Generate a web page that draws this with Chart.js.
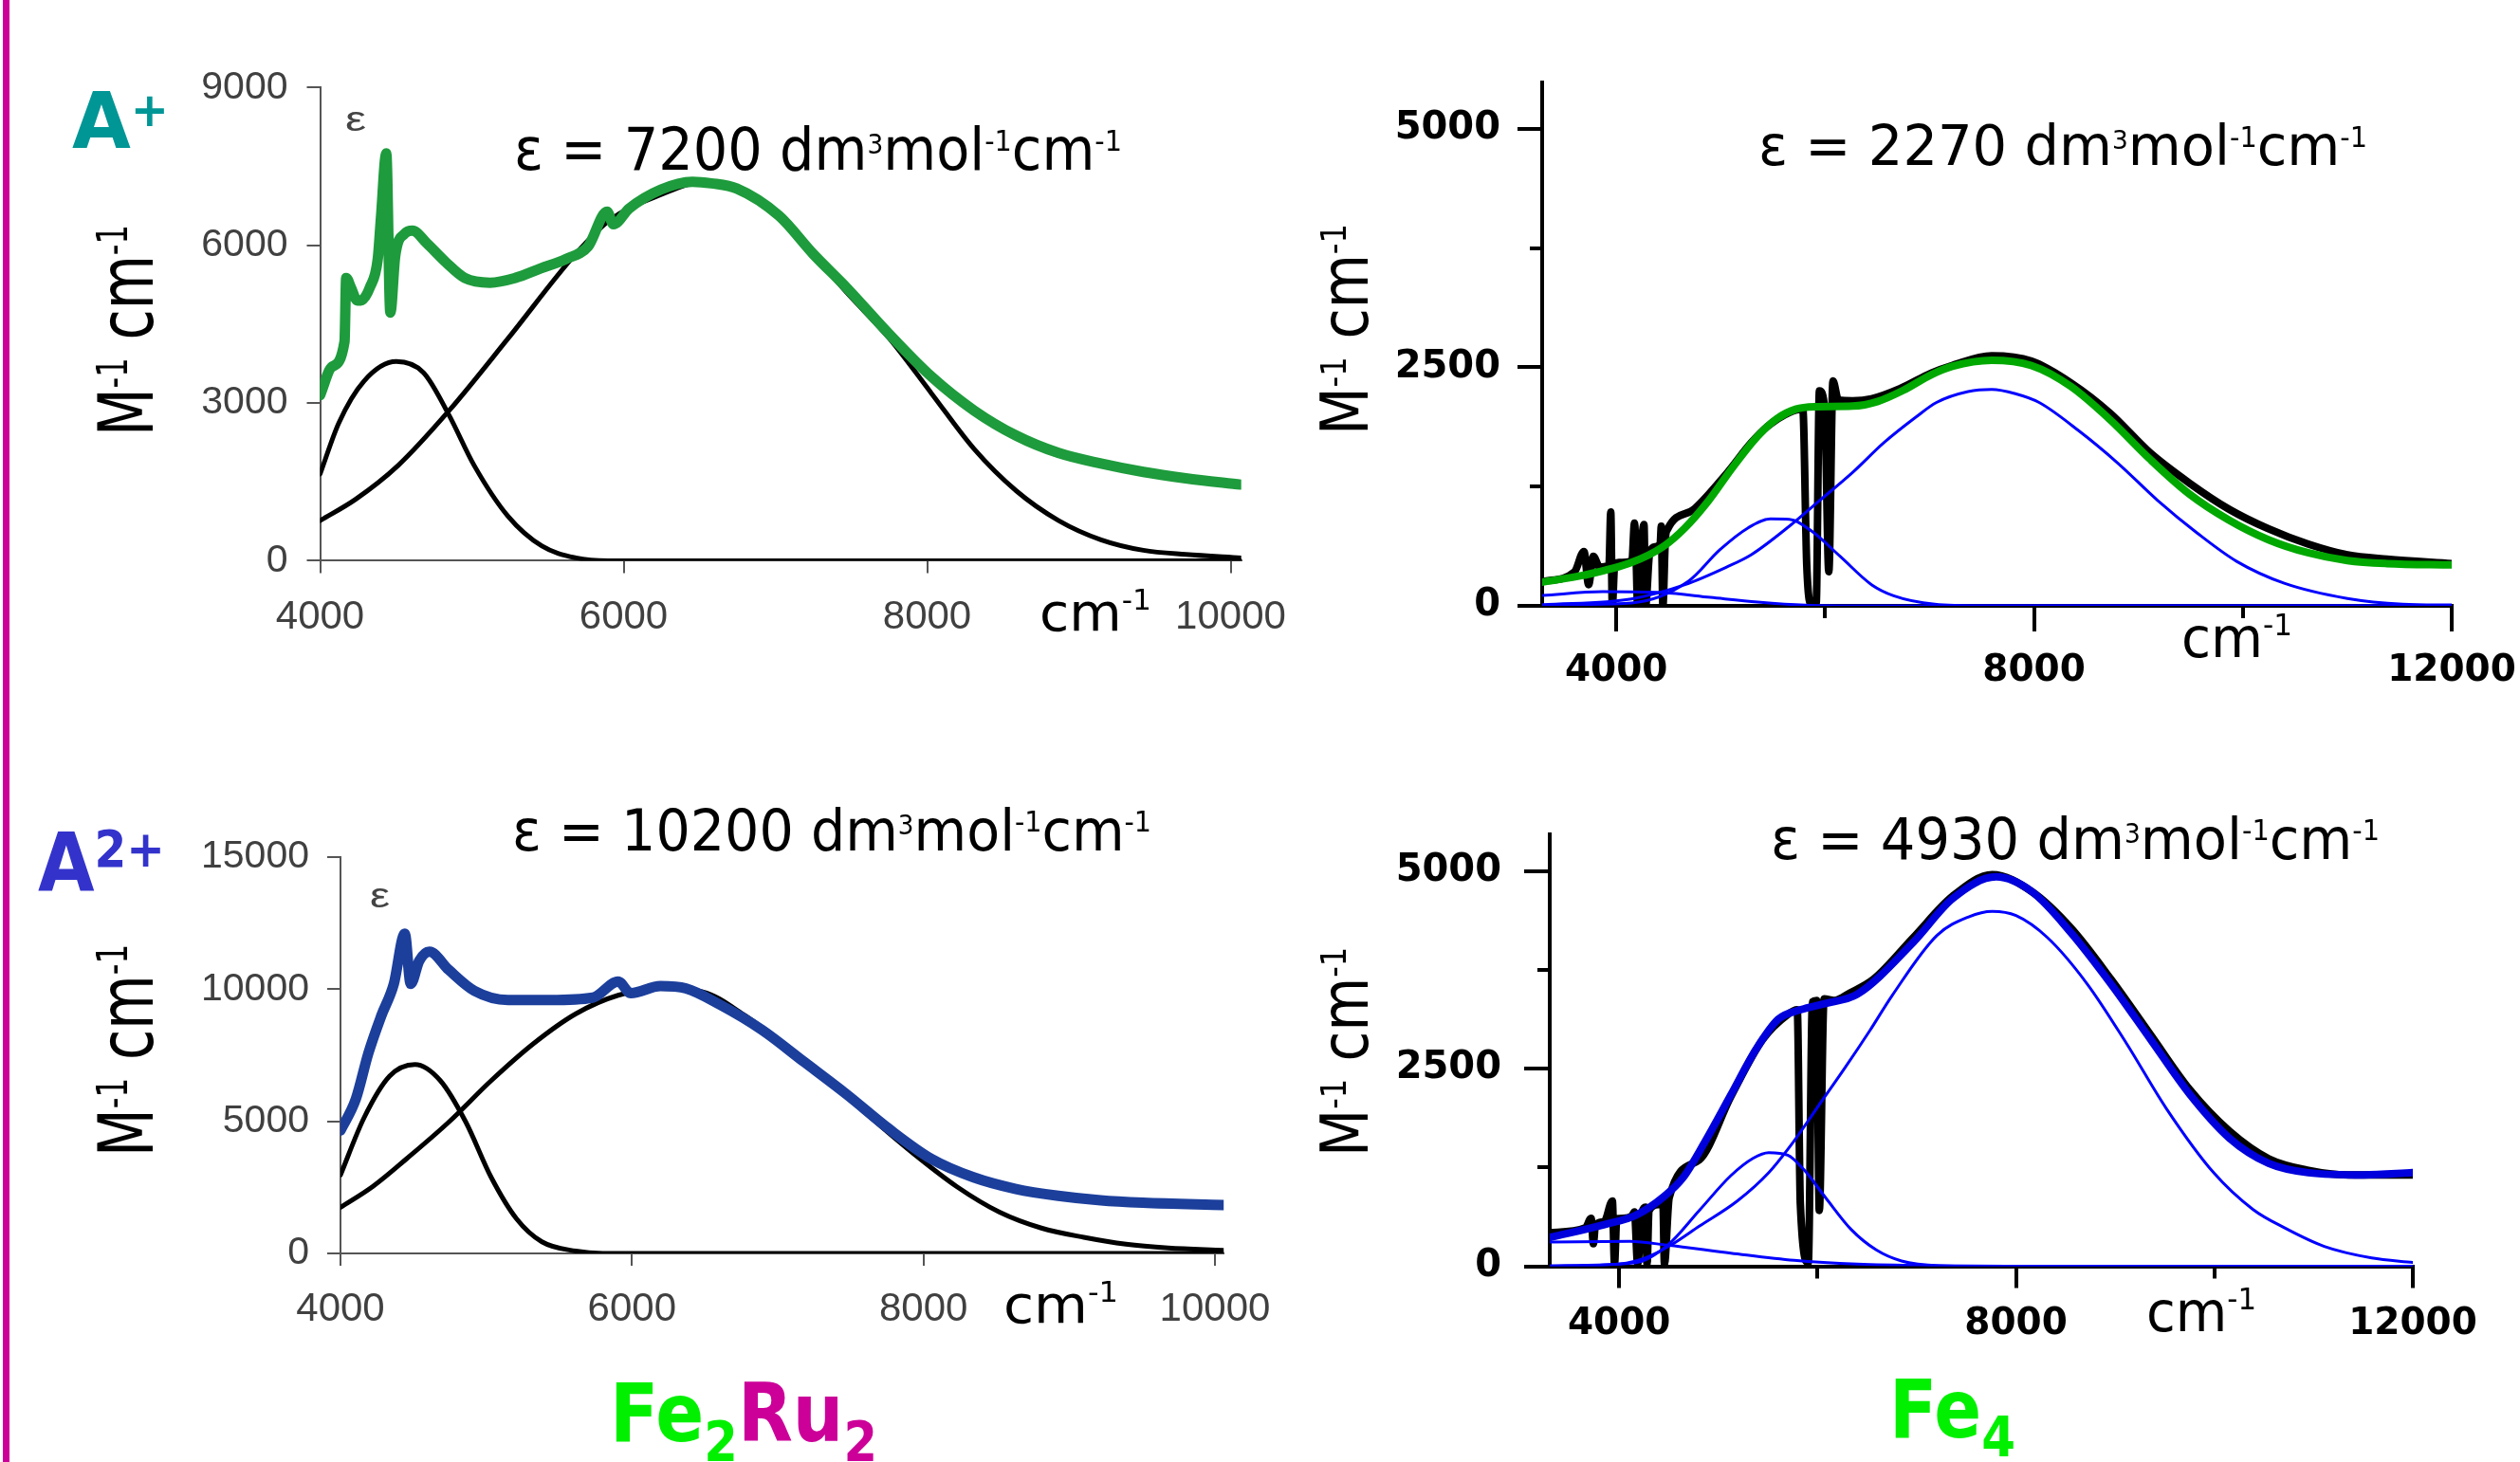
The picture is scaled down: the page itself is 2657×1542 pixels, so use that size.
<!DOCTYPE html>
<html><head><meta charset="utf-8"><title>NIR spectra Fe2Ru2 / Fe4</title>
<script src="https://cdn.jsdelivr.net/npm/chart.js@4.4.1/dist/chart.umd.min.js"></script>
<style>
html,body{margin:0;padding:0;background:#fff;width:2657px;height:1542px;overflow:hidden}
canvas{position:absolute;left:0;top:0}
#edge{position:absolute;left:3px;top:0;width:7px;height:1542px;background:#cc0099}
</style></head>
<body>
<div id="edge"></div>
<canvas id="p1" width="2657" height="1542"></canvas>
<canvas id="p2" width="2657" height="1542"></canvas>
<canvas id="p3" width="2657" height="1542"></canvas>
<canvas id="p4" width="2657" height="1542"></canvas>
<script>
// ---------------- tick values ----------------
const fe2ru2XTicks = [4000, 6000, 8000, 10000];
const fe2ru2AYTicks = [0, 3000, 6000, 9000];
const fe2ru2BYTicks = [0, 5000, 10000, 15000];
const fe4XTicks = [4000, 8000, 12000];
const fe4XMinor = [6000, 10000];
const fe4YTicks = [0, 2500, 5000];
const fe4YMinor = [1250, 3750];

// ---------------- Fe2Ru2, A+  [cm-1, M-1 cm-1] ----------------
const fe2ru2A_exp = [[4000,3150],[4078,3690],[4161,4170],[4172,5380],[4203,5200],[4245,4950],[4276,4960],[4328,5200],[4380,5740],[4401,6520],[4436,7750],[4463,4720],[4495,5800],[4557,6220],[4609,6280],[4703,6040],[4828,5680],[4953,5380],[5120,5290],[5286,5380],[5453,5560],[5620,5740],[5766,5980],[5891,6640],[5933,6400],[6036,6700],[6245,7060],[6453,7210],[6578,7180],[6746,7080],[7025,6560],[7248,5840],[7471,5190],[7751,4310],[8030,3500],[8309,2860],[8588,2380],[8867,2050],[9146,1850],[9425,1690],[9705,1570],[10067,1450]];
const fe2ru2A_band1 = [[4000,1650],[4123,2620],[4290,3420],[4502,3790],[4681,3580],[4848,2780],[5016,1810],[5239,845],[5462,280],[5685,56],[5900,0],[10067,0]];
const fe2ru2A_band2 = [[4000,765],[4234,1170],[4513,1810],[4848,2850],[5239,4230],[5685,5840],[5908,6480],[6243,6960],[6523,7200],[6746,7080],[7025,6560],[7248,5840],[7471,5100],[7751,4230],[8030,3180],[8309,2130],[8588,1330],[8867,765],[9146,400],[9425,200],[9705,120],[10067,56]];

// ---------------- Fe2Ru2, A2+ ----------------
const fe2ru2B_exp = [[4000,4650],[4105,5840],[4192,7590],[4279,8980],[4366,10200],[4441,12100],[4482,10200],[4540,11070],[4610,11420],[4743,10730],[4918,9940],[5150,9590],[5440,9590],[5731,9680],[5905,10290],[5992,9850],[6195,10120],[6370,10030],[6602,9420],[6892,8460],[7183,7240],[7473,6020],[7764,4710],[8054,3580],[8344,2880],[8635,2440],[8925,2180],[9216,2010],[9506,1920],[10058,1830]];
const fe2ru2B_band1 = [[4000,2970],[4163,5150],[4337,6710],[4511,7150],[4685,6540],[4860,4970],[5034,2880],[5208,1310],[5382,440],[5614,90],[5800,0],[10058,0]];
const fe2ru2B_band2 = [[4000,1740],[4221,2530],[4453,3580],[4743,4970],[5034,6540],[5324,7940],[5615,9070],[5905,9770],[6195,10030],[6486,9900],[6776,9000],[7067,7800],[7357,6550],[7648,5100],[7938,3750],[8228,2530],[8519,1570],[8809,960],[9100,610],[9390,350],[9680,210],[10058,120]];

// ---------------- Fe4, A+ ----------------
const fe4A_exp = [[3296,255],[3599,355],[3690,570],[3735,222],[3780,520],[3841,405],[3930,430],[3947,984],[3962,0],[3985,440],[4023,454],[4150,470],[4174,868],[4190,500],[4204,0],[4230,480],[4265,852],[4280,0],[4320,560],[4371,619],[4420,650],[4431,835],[4446,0],[4470,700],[4491,802],[4749,1017],[5052,1382],[5294,1713],[5445,1879],[5657,2028],[5786,2063],[5824,420],[5869,10],[5914,20],[5945,2253],[5996,2063],[6035,358],[6075,2358],[6126,2160],[6262,2150],[6444,2170],[6716,2276],[7019,2442],[7217,2520],[7595,2621],[7974,2566],[8352,2338],[8730,2018],[9109,1607],[9487,1288],[9866,1014],[10244,808],[10623,648],[11001,534],[11380,489],[12000,443]];
const fe4A_fit = [[3296,250],[3690,321],[4144,454],[4446,619],[4658,818],[4870,1083],[5112,1448],[5354,1779],[5536,1961],[5717,2061],[5899,2087],[6262,2094],[6505,2144],[6747,2259],[7019,2425],[7217,2511],[7595,2575],[7974,2520],[8352,2301],[8730,1950],[9109,1539],[9487,1173],[9866,900],[10244,694],[10623,557],[11001,475],[11380,443],[12000,429]];
const fe4A_band1 = [[3296,109],[3871,149],[4446,139],[4900,89],[5354,40],[5808,7],[6300,0],[12000,0]];
const fe4A_band2 = [[3296,10],[4144,30],[4688,255],[4991,587],[5263,818],[5475,911],[5657,908],[5869,785],[6142,520],[6444,222],[6656,106],[7050,17],[7500,0],[12000,0]];
const fe4A_band3 = [[3296,10],[4144,73],[4658,222],[5052,404],[5294,537],[5657,835],[5960,1116],[6262,1398],[6565,1713],[6868,1978],[7066,2132],[7369,2246],[7595,2269],[7822,2224],[8049,2132],[8428,1836],[8806,1493],[9184,1105],[9563,763],[9941,466],[10396,237],[11001,78],[11531,18],[12000,9]];

// ---------------- Fe4, A2+ ----------------
const fe4B_exp = [[3310,426],[3660,486],[3717,606],[3740,285],[3760,520],[3851,566],[3931,825],[3953,26],[3975,600],[4043,606],[4130,640],[4154,686],[4186,30],[4230,680],[4265,746],[4281,30],[4300,700],[4400,780],[4440,825],[4456,30],[4504,866],[4807,1345],[5125,2144],[5444,2863],[5699,3183],[5795,3243],[5826,785],[5906,46],[5948,3343],[5990,3360],[6017,705],[6065,3383],[6167,3360],[6327,3456],[6566,3631],[6964,4155],[7362,4680],[7761,4953],[8159,4738],[8557,4272],[8956,3631],[9354,2931],[9752,2232],[10151,1708],[10549,1358],[10947,1212],[11346,1154],[12000,1154]];
const fe4B_fit = [[3310,366],[3851,526],[4170,646],[4456,886],[4647,1125],[4870,1585],[5125,2164],[5380,2744],[5603,3124],[5826,3243],[6081,3324],[6400,3440],[6964,4097],[7362,4651],[7800,4924],[8159,4738],[8557,4214],[8956,3573],[9354,2873],[9752,2173],[10151,1620],[10549,1300],[10947,1183],[11505,1154],[12000,1183]];
const fe4B_band1 = [[3310,306],[4106,314],[4488,266],[5125,166],[5763,74],[6400,26],[7196,6],[8000,0],[12000,0]];
const fe4B_band2 = [[3310,6],[4170,46],[4488,266],[4807,705],[5125,1145],[5348,1364],[5508,1437],[5699,1405],[5859,1225],[6081,866],[6337,466],[6591,206],[6846,66],[7228,6],[7600,0],[12000,0]];
const fe4B_band3 = [[3310,0],[4011,30],[4265,106],[4520,266],[4807,506],[5190,825],[5508,1185],[5763,1585],[6017,2044],[6273,2504],[6528,2983],[6751,3423],[7203,4184],[7522,4418],[7761,4488],[8000,4435],[8318,4155],[8716,3573],[9115,2815],[9513,1999],[9992,1183],[10390,717],[10709,484],[11107,251],[11585,105],[12000,47]];

// ---------------- helpers ----------------
const W = 2657, H = 1542;
const YW = 160, XH = 100; // reserved box sizes for tick labels
Chart.defaults.font.family = "'Liberation Sans', Arial, sans-serif";

function drawRich(ctx, it) {
  ctx.save();
  const fam = it.family || "'DejaVu Sans', sans-serif";
  const wt = it.weight || 'normal';
  let total = 0;
  const parts = it.segs.map(s => {
    const sz = it.size * (s.k || 1);
    ctx.font = wt + ' ' + sz + 'px ' + fam;
    const w = ctx.measureText(s.t).width;
    total += w;
    return {t: s.t, sz, w, dy: (s.dy || 0) * it.size, c: s.c || it.color || '#000'};
  });
  const sx = it.w ? it.w / total : 1;
  ctx.translate(it.x, it.y);
  if (it.rot) ctx.rotate(-Math.PI / 2);
  ctx.scale(sx, 1);
  ctx.textAlign = 'left';
  ctx.textBaseline = 'alphabetic';
  let cx = 0;
  parts.forEach(p => {
    ctx.font = wt + ' ' + p.sz + 'px ' + fam;
    ctx.fillStyle = p.c;
    ctx.fillText(p.t, cx, p.dy);
    cx += p.w;
  });
  ctx.restore();
}
function textPlugin(id, items) {
  return {id: 'txt_' + id, afterDraw(chart) { items.forEach(it => drawRich(chart.ctx, it)); }};
}
function axis(o) {
  return {
    type: 'linear', position: o.pos, min: o.min, max: o.max, weight: o.weight === undefined ? 1 : o.weight,
    afterBuildTicks: s => { s.ticks = o.ticks.map(v => ({value: v})); },
    afterFit: s => {
      if (o.pos === 'left') s.width = o.size; else s.height = o.size;
      s.paddingLeft = 0; s.paddingRight = 0; s.paddingTop = 0; s.paddingBottom = 0;
    },
    grid: {display: true, drawOnChartArea: false, drawTicks: true, tickLength: o.tl, tickWidth: o.tw, tickColor: o.color, color: o.color, lineWidth: o.tw},
    border: {display: o.border !== false, color: o.color, width: o.bw || 1},
    ticks: {display: o.labels !== false, padding: o.pad || 0, color: o.lc || '#000', font: o.font, autoSkip: false, maxRotation: 0, minRotation: 0, callback: v => String(v)}
  };
}
function ds(arr, color, width) {
  return {data: arr.map(p => ({x: p[0], y: p[1]})), parsing: false, borderColor: color, borderWidth: width,
    pointRadius: 0, fill: false, cubicInterpolationMode: 'monotone', borderJoinStyle: 'round', borderCapStyle: 'round',
    xAxisID: 'x', yAxisID: 'y'};
}
function makeChart(id, area, scales, datasets, texts) {
  return new Chart(document.getElementById(id), {
    type: 'line',
    data: {datasets},
    options: {
      responsive: false, animation: false, devicePixelRatio: 1, events: [],
      layout: {padding: {left: area.l - YW, right: W - area.r, top: area.t, bottom: H - area.b - XH}},
      plugins: {legend: {display: false}, tooltip: {enabled: false}},
      scales
    },
    plugins: [textPlugin(id, texts)]
  });
}
const sup = (t, k, dy) => ({t, k: k || 0.5, dy: -(dy || 0.33)});
const grayFont = s => ({family: "'Liberation Sans', Arial, sans-serif", size: s});
const boldFont = s => ({family: "'DejaVu Sans', sans-serif", size: s, weight: 'bold'});
const eqFam = "'DejaVu Sans', sans-serif";
const ytitle = (x, y, w, size) => ({segs: [{t: 'M'}, sup('-1', 0.55, 0.34), {t: ' cm'}, sup('-1', 0.55, 0.34)], size, x, y, w, rot: true, family: eqFam});
const cmLabel = (x, y, w, size) => ({segs: [{t: 'cm'}, sup('-1', 0.55, 0.4)], size, x, y, w, family: eqFam});
const eqLabel = (val, x, y, w, size) => ({segs: [{t: 'ε = ' + val + ' dm'}, sup('3', 0.46, 0.28), {t: 'mol'}, sup('-1'), {t: 'cm'}, sup('-1')], size, x, y, w, family: eqFam});

// ---------------- Panel 1: Fe2Ru2 A+ ----------------
makeChart('p1', {l: 337.5, r: 1308.7, t: 92.4, b: 591.5}, {
  x: axis({pos: 'bottom', min: 4000, max: 10070, ticks: fe2ru2XTicks, tl: 13, tw: 2, bw: 2, color: '#555', pad: 22, lc: '#404040', font: grayFont(42), size: XH}),
  y: axis({pos: 'left', min: 0, max: 9000, ticks: fe2ru2AYTicks, tl: 14, tw: 2, bw: 2, color: '#555', pad: 20, lc: '#404040', font: grayFont(41), size: YW})
}, [
  ds(fe2ru2A_exp, '#1e9b3c', 11),
  ds(fe2ru2A_band2, '#000000', 5),
  ds(fe2ru2A_band1, '#000000', 5)
], [
  {segs: [{t: 'A'}, {t: '+', k: 0.6, dy: -0.28}], size: 82, x: 76, y: 156, w: 102, weight: 'bold', color: '#009696', family: eqFam},
  {segs: [{t: 'ε'}], size: 36, x: 364, y: 138, w: 22, color: '#444', family: "'Liberation Sans', Arial, sans-serif"},
  eqLabel('7200', 542, 179, 641, 62),
  cmLabel(1096, 665, 118, 56),
  ytitle(161, 460, 223, 80)
]);

// ---------------- Panel 3: Fe2Ru2 A2+ ----------------
makeChart('p3', {l: 359, r: 1290.2, t: 904, b: 1322}, {
  x: axis({pos: 'bottom', min: 4000, max: 10060, ticks: fe2ru2XTicks, tl: 13, tw: 2, bw: 2, color: '#555', pad: 21, lc: '#404040', font: grayFont(42), size: XH}),
  y: axis({pos: 'left', min: 0, max: 15000, ticks: fe2ru2BYTicks, tl: 14, tw: 2, bw: 2, color: '#555', pad: 19, lc: '#404040', font: grayFont(41), size: YW})
}, [
  ds(fe2ru2B_exp, '#1c3f9c', 11),
  ds(fe2ru2B_band2, '#000000', 5),
  ds(fe2ru2B_band1, '#000000', 5)
], [
  {segs: [{t: 'A'}, {t: '2+', k: 0.63, dy: -0.3}], size: 85, x: 40, y: 939, w: 134, weight: 'bold', color: '#3333cc', family: eqFam},
  {segs: [{t: 'ε'}], size: 36, x: 390, y: 957, w: 21, color: '#444', family: "'Liberation Sans', Arial, sans-serif"},
  eqLabel('10200', 540, 897, 674, 61),
  cmLabel(1058, 1395, 121, 56),
  ytitle(161, 1220, 224, 80),
  {segs: [{t: 'Fe', c: '#00f000'}, {t: '2', k: 0.68, dy: 0.25, c: '#00f000'}, {t: 'Ru', c: '#cc0099'}, {t: '2', k: 0.68, dy: 0.25, c: '#cc0099'}], size: 85, x: 643, y: 1520, w: 282, weight: 'bold', family: eqFam}
]);

// ---------------- Panel 2: Fe4 A+ ----------------
makeChart('p2', {l: 1626, r: 2585, t: 87, b: 639}, {
  x: axis({pos: 'bottom', min: 3290, max: 12000, ticks: fe4XTicks, tl: 27, tw: 4, bw: 4, color: '#000', pad: 18, font: boldFont(39), size: XH}),
  x2: axis({pos: 'bottom', min: 3290, max: 12000, ticks: fe4XMinor, tl: 13, tw: 4, border: false, labels: false, color: '#000', size: 0, weight: 0}),
  y: axis({pos: 'left', min: 0, max: 5487, ticks: fe4YTicks, tl: 26, tw: 4, bw: 4, color: '#000', pad: 18, font: boldFont(40), size: YW}),
  y2: axis({pos: 'left', min: 0, max: 5487, ticks: fe4YMinor, tl: 13, tw: 4, border: false, labels: false, color: '#000', size: 0, weight: 0})
}, [
  ds(fe4A_fit, '#00a800', 8),
  ds(fe4A_band3, '#0000ff', 3),
  ds(fe4A_band2, '#0000ff', 3),
  ds(fe4A_band1, '#0000ff', 3),
  ds(fe4A_exp, '#000000', 8)
], [
  eqLabel('2270', 1854, 174, 642, 59),
  cmLabel(2300, 693, 117, 58),
  ytitle(1442, 459, 223, 69)
]);

// ---------------- Panel 4: Fe4 A2+ ----------------
makeChart('p4', {l: 1634, r: 2544, t: 880, b: 1335.5}, {
  x: axis({pos: 'bottom', min: 3300, max: 12000, ticks: fe4XTicks, tl: 23, tw: 4, bw: 4, color: '#000', pad: 15, font: boldFont(39), size: XH}),
  x2: axis({pos: 'bottom', min: 3300, max: 12000, ticks: fe4XMinor, tl: 13, tw: 4, border: false, labels: false, color: '#000', size: 0, weight: 0}),
  y: axis({pos: 'left', min: 0, max: 5462, ticks: fe4YTicks, tl: 27, tw: 4, bw: 4, color: '#000', pad: 24, font: boldFont(40), size: YW}),
  y2: axis({pos: 'left', min: 0, max: 5462, ticks: fe4YMinor, tl: 13, tw: 4, border: false, labels: false, color: '#000', size: 0, weight: 0})
}, [
  ds(fe4B_fit, '#0000dd', 8),
  ds(fe4B_band3, '#0000ff', 3),
  ds(fe4B_band2, '#0000ff', 3),
  ds(fe4B_band1, '#0000ff', 3),
  ds(fe4B_exp, '#000000', 8)
], [
  eqLabel('4930', 1867, 906, 642, 60),
  cmLabel(2263, 1404, 116, 58),
  ytitle(1442, 1220, 221, 69),
  {segs: [{t: 'Fe'}, {t: '4', k: 0.7, dy: 0.24}], size: 85, x: 1992, y: 1516, w: 133, weight: 'bold', color: '#00f000', family: eqFam}
]);
</script>
</body></html>
